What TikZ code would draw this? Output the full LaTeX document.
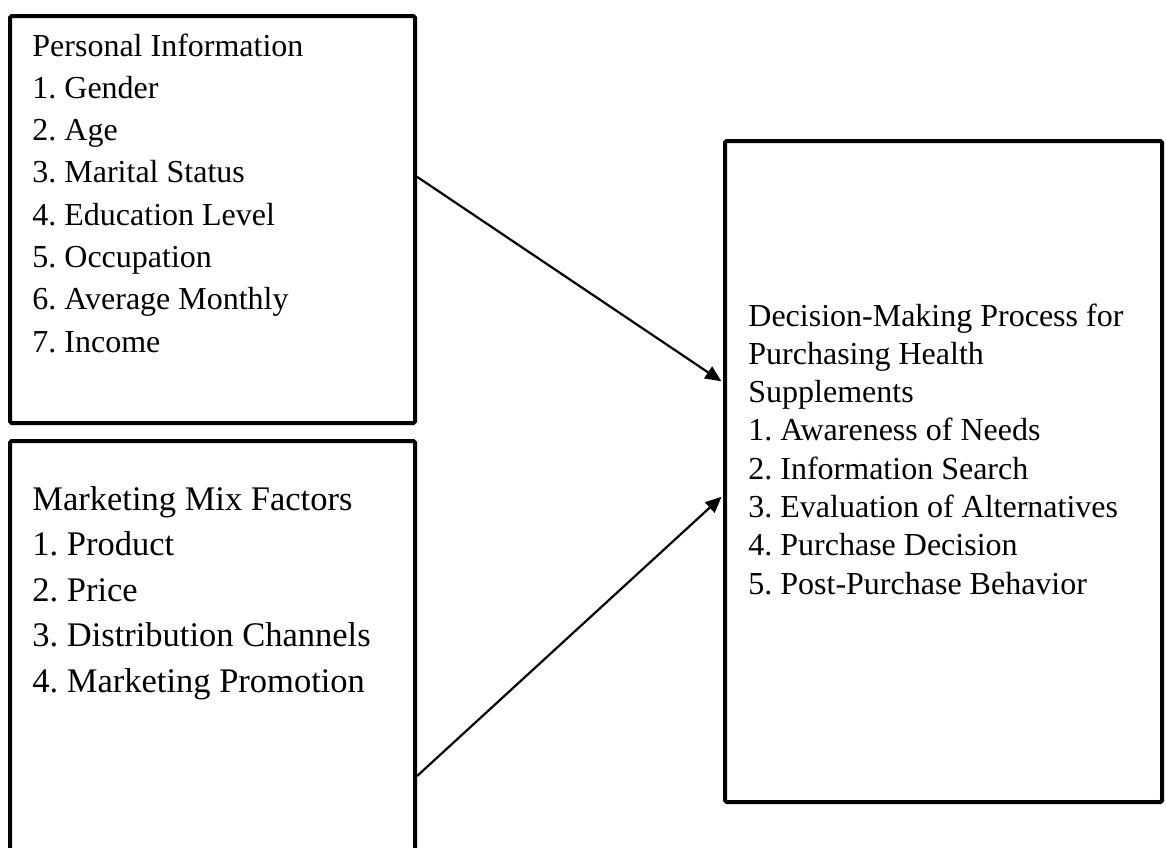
\documentclass[tikz,border=0pt]{standalone}
\usepackage{fontspec}
\setmainfont{Liberation Serif}
\usetikzlibrary{arrows.meta,calc}
\frenchspacing
\tikzset{
  box/.style={draw, line width=2pt, rounded corners=0.8pt, inner sep=0pt},
  itemtext/.style={anchor=base west, inner sep=0pt, font=\fontsize{16}{19}\selectfont},
  bigtext/.style={itemtext, font=\fontsize{17.25}{21}\selectfont},
  link/.style={-{Triangle[length=8pt,width=7pt]}, line width=1.1pt, shorten >=1pt},
}
\begin{document}
\begin{tikzpicture}[x=0.5pt,y=-0.5pt]
  \useasboundingbox (0,0) rectangle (1166,847);
  \clip (0,0) rectangle (1166,847);
  % boxes
  \node[box, minimum width=202.5pt, minimum height=203.5pt] (pinfo) at (212.5,219.5) {};
  \node[box, minimum width=202.5pt, minimum height=229.5pt] (mix) at (212.5,670.5) {};
  \node[box, minimum width=218.5pt, minimum height=330.5pt] (decide) at (943.5,471.5) {};
  % personal information
  \foreach \t [count=\i from 0] in {Personal Information, 1. Gender, 2. Age,
      3. Marital Status, 4. Education Level, 5. Occupation,
      6. Average Monthly, 7. Income}
    \node[itemtext] (pi\i) at (32,56+42.3*\i) {\t};
  % marketing mix
  \foreach \t [count=\i from 0] in {Marketing Mix Factors, 1. Product, 2. Price,
      3. Distribution Channels, 4. Marketing Promotion}
    \node[bigtext] (mm\i) at (32,510+45.5*\i) {\t};
  % decision process
  \foreach \t [count=\i from 0] in {Decision-Making Process for,
      Purchasing Health, Supplements, 1. Awareness of Needs,
      2. Information Search, 3. Evaluation of Alternatives,
      4. Purchase Decision, 5. Post-Purchase Behavior}
    \node[itemtext] (dp\i) at (748,326+38.3*\i) {\t};
  % arrows
  \draw[link] ($(pinfo.north east)!0.396!(pinfo.south east)$)
    -- ($(decide.north west)!0.366!(decide.south west)$);
  \draw[link] ($(mix.north east)!0.728!(mix.south east)$)
    -- ($(decide.north west)!0.536!(decide.south west)$);
\end{tikzpicture}
\end{document}
